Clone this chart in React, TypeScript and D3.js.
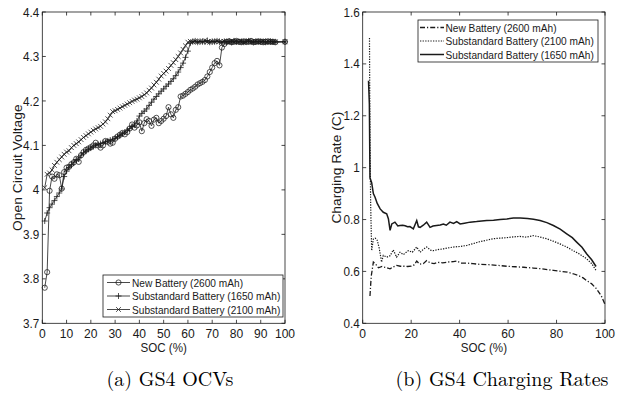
import React from "react";
import * as d3 from "d3";

// ---------- Left chart data (OCV vs SOC) ----------
const socL = [
  1, 2, 3, 4, 5, 6, 7, 8, 9, 10, 11, 12, 13, 14, 15, 16, 17, 18, 19, 20,
  21, 22, 23, 24, 25, 26, 27, 28, 29, 30, 31, 32, 33, 34, 35, 36, 37, 38, 39, 40,
  41, 42, 43, 44, 45, 46, 47, 48, 49, 50, 51, 52, 53, 54, 55, 56, 57, 58, 59, 60,
  61, 62, 63, 64, 65, 66, 67, 68, 69, 70, 71, 72, 73, 74, 75, 76, 77, 78, 79, 80,
  81, 82, 83, 84, 85, 86, 87, 88, 89, 90, 91, 92, 93, 94, 95, 96, 100,
];

const ocvNew = [
  3.780, 3.815, 3.998, 4.030, 4.025, 4.035, 4.033, 4.003, 4.040, 4.050,
  4.052, 4.058, 4.062, 4.070, 4.063, 4.078, 4.085, 4.090, 4.093, 4.096,
  4.100, 4.106, 4.100, 4.095, 4.100, 4.110, 4.108, 4.104, 4.106, 4.115,
  4.120, 4.124, 4.128, 4.125, 4.130, 4.138, 4.147, 4.140, 4.145, 4.152,
  4.132, 4.150, 4.159, 4.155, 4.144, 4.158, 4.162, 4.150, 4.155, 4.160,
  4.166, 4.186, 4.170, 4.162, 4.180, 4.186, 4.210, 4.212, 4.216, 4.220,
  4.225, 4.228, 4.232, 4.237, 4.240, 4.243, 4.247, 4.255, 4.265, 4.275,
  4.285, 4.290, 4.280, 4.320, 4.328,
  4.333, 4.334, 4.332, 4.333, 4.335, 4.333, 4.332, 4.334, 4.333, 4.333,
  4.335, 4.332, 4.333, 4.334, 4.333, 4.332, 4.333, 4.334, 4.333, 4.333, 4.332,
  4.333,
];

const ocv2100 = [
  4.005, 4.035, 4.038, 4.045, 4.055, 4.062, 4.068, 4.074, 4.080, 4.085,
  4.088, 4.095, 4.100, 4.104, 4.108, 4.113, 4.118, 4.122, 4.126, 4.130,
  4.134, 4.137, 4.140, 4.143, 4.148, 4.153, 4.160, 4.168, 4.176, 4.178,
  4.181, 4.184, 4.187, 4.190, 4.193, 4.196, 4.199, 4.202, 4.204, 4.207,
  4.210, 4.214, 4.218, 4.224, 4.229, 4.236, 4.242, 4.249, 4.256, 4.262,
  4.267, 4.273, 4.280, 4.286, 4.293, 4.300, 4.308, 4.316, 4.324, 4.332,
  4.334, 4.333, 4.335, 4.332, 4.334, 4.333, 4.336, 4.333, 4.332, 4.334,
  4.333, 4.335, 4.333, 4.332, 4.334, 4.333, 4.333, 4.335, 4.332, 4.334,
  4.333, 4.334, 4.332, 4.333, 4.335, 4.333, 4.332, 4.334, 4.333, 4.333,
  4.335, 4.332, 4.334, 4.333, 4.332, 4.333,
  4.333,
];

const ocv1650 = [
  3.930, 3.948, 3.960, 3.968, 3.976, 3.985, 3.993, 4.002, 4.030, 4.042,
  4.050, 4.056, 4.062, 4.068, 4.072, 4.078, 4.083, 4.087, 4.091, 4.094,
  4.097, 4.100, 4.102, 4.104, 4.106, 4.108, 4.110, 4.112, 4.114, 4.116,
  4.119, 4.122, 4.126, 4.130, 4.134, 4.138, 4.142, 4.148, 4.155, 4.166,
  4.172, 4.177, 4.182, 4.190, 4.197, 4.204, 4.210, 4.216, 4.222, 4.227,
  4.233, 4.238, 4.244, 4.250, 4.257, 4.265, 4.275, 4.285, 4.298, 4.312,
  4.330,
  4.333, 4.335, 4.332, 4.334, 4.333, 4.333, 4.336, 4.332, 4.334,
  4.333, 4.335, 4.333, 4.332, 4.334, 4.333, 4.334, 4.332, 4.335, 4.333,
  4.333, 4.334, 4.332, 4.333, 4.335, 4.333, 4.332, 4.334, 4.333, 4.333,
  4.334, 4.332, 4.333, 4.334, 4.333, 4.333,
  4.333,
];

const xTicksL = [0, 10, 20, 30, 40, 50, 60, 70, 80, 90, 100];
const yTicksL = [3.7, 3.8, 3.9, 4.0, 4.1, 4.2, 4.3, 4.4];
const yTickLabelsL = ["3.7", "3.8", "3.9", "4", "4.1", "4.2", "4.3", "4.4"];
const legendL = [
  "New Battery (2600 mAh)",
  "Substandard Battery (1650 mAh)",
  "Substandard Battery (2100 mAh)",
];

// ---------- Right chart data (charging rate vs SOC) ----------
const socR1650 = [
  2.4, 2.75, 3.0, 3.7, 4.4, 5.1, 6, 7.2, 8.5, 9.9, 10.6, 11.3, 12, 13.3, 14.5,
  15.4, 16.5, 17.5, 18.5, 19.5, 20.9, 22.3, 23, 23.7, 25, 26.4, 27.8, 29, 30.5, 32,
  33.3, 34.5, 36, 37.5, 38.8, 40.2, 42, 44.3, 47, 51.2, 54, 56.7, 59.5, 62.2, 65,
  68, 70.5, 73.2, 76, 78.7, 81.5, 84.2, 86.5, 88.3, 90.5, 92.4, 94.5, 96.3,
];
const rate1650 = [
  1.335, 1.245, 0.961, 0.942, 0.90, 0.886, 0.862, 0.841, 0.828, 0.822, 0.803, 0.758, 0.783, 0.79, 0.775,
  0.777, 0.778, 0.776, 0.772, 0.773, 0.764, 0.796, 0.772, 0.77, 0.778, 0.79, 0.77, 0.775, 0.777, 0.779,
  0.783, 0.778, 0.79, 0.785, 0.792, 0.783, 0.786, 0.79, 0.792, 0.796, 0.797, 0.8, 0.802, 0.806, 0.806,
  0.804, 0.801, 0.796, 0.788, 0.777, 0.763, 0.745, 0.73, 0.713, 0.693, 0.668, 0.645, 0.619,
];

const socR2100 = [
  2.8, 3.0, 3.3, 3.7, 4.4, 5.2, 6.0, 6.8, 7.8, 8.5, 9.9, 11.3, 12.6, 14, 15.4,
  16.8, 18.8, 20.5, 22.3, 23.7, 25, 26.4, 28, 29.2, 31, 33.3, 35, 37.4, 40, 42.9,
  45.5, 48.4, 51, 53.9, 56.5, 59.4, 62, 64.9, 67.5, 70.4, 73, 75.9, 78.5, 81.4, 84,
  86.9, 89.5, 92.4, 94.5, 96.3,
];
const rate2100 = [
  1.50, 1.10, 0.85, 0.68, 0.725, 0.728, 0.72, 0.69, 0.636, 0.662, 0.655, 0.66, 0.683, 0.655, 0.674,
  0.665, 0.68, 0.674, 0.694, 0.674, 0.685, 0.694, 0.682, 0.68, 0.684, 0.687, 0.69, 0.694, 0.696, 0.7,
  0.707, 0.715, 0.72, 0.726, 0.728, 0.73, 0.733, 0.735, 0.732, 0.738, 0.733, 0.726, 0.717, 0.706, 0.695,
  0.68, 0.667, 0.649, 0.63, 0.604,
];

const socR2600 = [
  3.0, 3.5, 4.4, 5.2, 6.5, 8, 9.5, 11.3, 12.5, 14, 15.5, 17, 18.5, 20, 21.2,
  22.3, 23.5, 25, 26.4, 28, 29.5, 31, 33, 35, 37.4, 39, 40.5, 43, 45.5, 48.4,
  52, 56, 59.4, 63, 66.5, 70.4, 74, 78.7, 82, 84.5, 86.9, 89, 91, 92.4, 94.5,
  96.5, 98.5, 100,
];
const rate2600 = [
  0.505, 0.58, 0.636, 0.63, 0.614, 0.619, 0.615, 0.61, 0.617, 0.623, 0.62, 0.62, 0.619, 0.62, 0.625,
  0.64, 0.628, 0.63, 0.642, 0.632, 0.63, 0.635, 0.633, 0.636, 0.638, 0.64, 0.632, 0.632, 0.63, 0.627,
  0.626, 0.623, 0.62, 0.618, 0.616, 0.613, 0.61, 0.604, 0.6, 0.597, 0.591, 0.584, 0.575, 0.565, 0.552,
  0.533, 0.505, 0.473,
];

const xTicksR = [0, 20, 40, 60, 80, 100];
const yTicksR = [0.4, 0.6, 0.8, 1.0, 1.2, 1.4, 1.6];
const yTickLabelsR = ["0.4", "0.6", "0.8", "1", "1.2", "1.4", "1.6"];
const legendR = [
  "New Battery (2600 mAh)",
  "Substandard Battery (2100 mAh)",
  "Substandard Battery (1650 mAh)",
];

const captions = ["(a) GS4 OCVs", "(b) GS4 Charging Rates"];

const INK = "#1a1a1a";
const SANS = "'Liberation Sans', Arial, Helvetica, sans-serif";
const SERIF = "'Latin Modern Roman', 'Liberation Serif', 'Times New Roman', serif";

function zip(xs: number[], ys: number[]): [number, number][] {
  const n = Math.min(xs.length, ys.length);
  const out: [number, number][] = [];
  for (let i = 0; i < n; i++) out.push([xs[i], ys[i]]);
  return out;
}

function SText({
  x, y, size, sq, anchor = "start", children,
}: {
  x: number; y: number; size: number; sq: number; anchor?: "start" | "middle" | "end"; children: React.ReactNode;
}) {
  return (
    <text
      transform={`translate(${x},${y}) scale(${sq},1)`}
      textAnchor={anchor}
      fontSize={size}
      fontFamily={SANS}
      fill={INK}
    >
      {children}
    </text>
  );
}

type Marker = "o" | "+" | "x";

function MarkerShape({ type, cx, cy }: { type: Marker; cx: number; cy: number }) {
  if (type === "o")
    return <circle cx={cx} cy={cy} r={2.6} fill="none" stroke={INK} strokeWidth={0.75} />;
  if (type === "+")
    return (
      <path
        d={`M${cx - 3},${cy}H${cx + 3}M${cx},${cy - 3}V${cy + 3}`}
        stroke={INK}
        strokeWidth={0.75}
      />
    );
  const s = 2.4;
  return (
    <path
      d={`M${cx - s},${cy - s}L${cx + s},${cy + s}M${cx - s},${cy + s}L${cx + s},${cy - s}`}
      stroke={INK}
      strokeWidth={0.75}
    />
  );
}

function Frame({
  x, y, xTicks, yTicks, yLabels, xLabel, yLabel, yLabelX,
}: {
  x: d3.ScaleLinear<number, number>;
  y: d3.ScaleLinear<number, number>;
  xTicks: number[];
  yTicks: number[];
  yLabels: string[];
  xLabel: string;
  yLabel: string;
  yLabelX: number;
}) {
  const [x0, x1] = x.range();
  const [y0, y1] = y.range(); // y0 bottom, y1 top
  const tl = 3.5;
  return (
    <g>
      <rect x={x0} y={y1} width={x1 - x0} height={y0 - y1} fill="none" stroke={INK} strokeWidth={0.8} />
      {xTicks.map((t) => (
        <g key={"x" + t}>
          <line x1={x(t)} x2={x(t)} y1={y0} y2={y0 - tl} stroke={INK} strokeWidth={0.8} />
          <line x1={x(t)} x2={x(t)} y1={y1} y2={y1 + tl} stroke={INK} strokeWidth={0.8} />
          <SText x={x(t)} y={y0 + 15} size={13} sq={0.93} anchor="middle">
            {t}
          </SText>
        </g>
      ))}
      {yTicks.map((t, i) => (
        <g key={"y" + t}>
          <line x1={x0} x2={x0 + tl} y1={y(t)} y2={y(t)} stroke={INK} strokeWidth={0.8} />
          <line x1={x1} x2={x1 - tl} y1={y(t)} y2={y(t)} stroke={INK} strokeWidth={0.8} />
          <SText x={x0 - 3} y={y(t) + 4.6} size={13} sq={0.9} anchor="end">
            {yLabels[i]}
          </SText>
        </g>
      ))}
      <SText x={(x0 + x1) / 2} y={y0 + 28.5} size={13.5} sq={0.86} anchor="middle">
        {xLabel}
      </SText>
      <text
        transform={`translate(${yLabelX},${(y0 + y1) / 2}) rotate(-90) scale(1.15,1)`}
        textAnchor="middle"
        fontSize={12}
        fontFamily={SANS}
        fill={INK}
      >
        {yLabel}
      </text>
    </g>
  );
}

export default function App() {
  const top = 12;
  const bottom = 323.3;

  // left plot
  const xL = d3.scaleLinear().domain([0, 100]).range([42.3, 285]);
  const yL = d3.scaleLinear().domain([3.7, 4.4]).range([bottom, top]);
  const lineL = d3.line<[number, number]>().x((d) => xL(d[0])).y((d) => yL(d[1]));

  const seriesL: { vals: number[]; marker: Marker }[] = [
    { vals: ocvNew, marker: "o" },
    { vals: ocv1650, marker: "+" },
    { vals: ocv2100, marker: "x" },
  ];

  // right plot
  const xR = d3.scaleLinear().domain([0, 100]).range([362.7, 605]);
  const yR = d3.scaleLinear().domain([0.4, 1.6]).range([bottom, top]);
  const lineR = d3.line<[number, number]>().x((d) => xR(d[0])).y((d) => yR(d[1]));

  const seriesR = [
    { pts: zip(socR2600, rate2600), dash: "5,2,1.2,2", width: 1.3 },
    { pts: zip(socR2100, rate2100), dash: "1.3,1.3", width: 1.2 },
    { pts: zip(socR1650, rate1650), dash: "", width: 1.5 },
  ];

  const legL = { x: 103, y: 275, w: 180, h: 42 };
  const legR = { x: 418, y: 20, w: 180, h: 42 };

  return (
    <svg
      width={627}
      height={401}
      style={{ position: "absolute", left: 0, top: 0, background: "#fff" }}
      xmlns="http://www.w3.org/2000/svg"
    >
      <rect x={0} y={0} width={627} height={401} fill="#fff" />

      {/* Left chart */}
      <Frame
        x={xL}
        y={yL}
        xTicks={xTicksL}
        yTicks={yTicksL}
        yLabels={yTickLabelsL}
        xLabel="SOC (%)"
        yLabel="Open Circuit Voltage"
        yLabelX={21.5}
      />
      {seriesL.map((s, i) => {
        const pts = zip(socL, s.vals);
        return (
          <g key={"sl" + i}>
            <path d={lineL(pts) || ""} fill="none" stroke={INK} strokeWidth={0.8} />
            {pts.map((p, j) => (
              <MarkerShape key={j} type={s.marker} cx={xL(p[0])} cy={yL(p[1])} />
            ))}
          </g>
        );
      })}
      <rect x={legL.x} y={legL.y} width={legL.w} height={legL.h} fill="#fff" stroke={INK} strokeWidth={0.8} />
      {legendL.map((t, i) => {
        const cy = legL.y + 7.5 + i * 13.5;
        return (
          <g key={"ll" + i}>
            <line x1={legL.x + 4} x2={legL.x + 27} y1={cy} y2={cy} stroke={INK} strokeWidth={0.8} />
            <MarkerShape type={seriesL[i].marker} cx={legL.x + 15.5} cy={cy} />
            <SText x={legL.x + 29} y={cy + 4.2} size={11.8} sq={0.86}>
              {t}
            </SText>
          </g>
        );
      })}

      {/* Right chart */}
      <Frame
        x={xR}
        y={yR}
        xTicks={xTicksR}
        yTicks={yTicksR}
        yLabels={yTickLabelsR}
        xLabel="SOC (%)"
        yLabel="Charging Rate (C)"
        yLabelX={341}
      />
      {seriesR.map((s, i) => (
        <path
          key={"sr" + i}
          d={lineR(s.pts) || ""}
          fill="none"
          stroke={INK}
          strokeWidth={s.width}
          strokeDasharray={s.dash || undefined}
        />
      ))}
      <rect x={legR.x} y={legR.y} width={legR.w} height={legR.h} fill="#fff" stroke={INK} strokeWidth={0.8} />
      {legendR.map((t, i) => {
        const cy = legR.y + 7.5 + i * 13.5;
        const s = seriesR[i];
        return (
          <g key={"lr" + i}>
            <line
              x1={legR.x + 2}
              x2={legR.x + 26}
              y1={cy}
              y2={cy}
              stroke={INK}
              strokeWidth={s.width}
              strokeDasharray={s.dash || undefined}
            />
            <SText x={legR.x + 27.5} y={cy + 4.2} size={11.8} sq={0.86}>
              {t}
            </SText>
          </g>
        );
      })}

      {/* Captions */}
      <text x={170} y={386} textAnchor="middle" fontSize={20} fontFamily={SERIF} fill="#000">
        {captions[0]}
      </text>
      <text x={502} y={386} textAnchor="middle" fontSize={20} fontFamily={SERIF} fill="#000">
        {captions[1]}
      </text>
    </svg>
  );
}
